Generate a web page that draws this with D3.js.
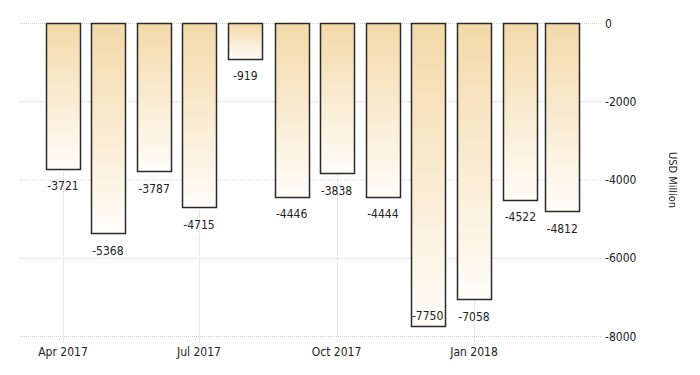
<!DOCTYPE html>
<html>
<head>
<meta charset="utf-8">
<script src="https://cdn.jsdelivr.net/npm/d3@7"></script>
<style>
body { margin: 0; background: #fff; }
text { font-family: "DejaVu Sans Condensed", "Liberation Sans", sans-serif; font-size: 12px; fill: #222; }
</style>
</head>
<body>
<script>
// monthly values, USD million
let months = ['2017-04', '2017-05', '2017-06', '2017-07', '2017-08', '2017-09', '2017-10', '2017-11', '2017-12', '2018-01', '2018-02', '2018-03'];
let values = [-3721, -5368, -3787, -4715, -919, -4446, -3838, -4444, -7750, -7058, -4522, -4812];
let xTicks = ['2017-04', '2017-07', '2017-10', '2018-01'];
let yTicks = [0, -2000, -4000, -6000, -8000];

let width = 700, height = 375;
let parse = d3.timeParse('%Y-%m');

const svg = d3.select('body').append('svg').attr('width', width).attr('height', height);

// time scale: Apr 2017 -> 63px, Jan 2018 -> 474px
let x = d3.scaleTime().domain([parse('2017-04'), parse('2018-01')]).range([63, 474]);
let y = d3.scaleLinear().domain([0, -8000]).range([23, 336]);
let left = 20, right = 601;
let barW = 34;

let grad = svg.append('defs').append('linearGradient').attr('id', 'barfill')
	.attr('x1', 0).attr('y1', 0).attr('x2', 0).attr('y2', 1);
grad.append('stop').attr('offset', '0%').attr('stop-color', '#f3d9a8');
grad.append('stop').attr('offset', '100%').attr('stop-color', '#fffdf9');

// grid
svg.append('g').selectAll('line').data(yTicks).enter().append('line')
	.attr('x1', left).attr('x2', right)
	.attr('y1', d => y(d) + 0.5).attr('y2', d => y(d) + 0.5)
	.attr('stroke', '#cfcfcf').attr('stroke-dasharray', '1,1');
svg.append('g').selectAll('line').data(xTicks).enter().append('line')
	.attr('x1', d => Math.round(x(parse(d))) + 0.5).attr('x2', d => Math.round(x(parse(d))) + 0.5)
	.attr('y1', 23).attr('y2', 342)
	.attr('stroke', '#d8d8d8').attr('stroke-dasharray', '1,1');

// bars
let bars = svg.append('g');
bars.selectAll('rect').data(values).enter().append('rect')
	.attr('x', (d, i) => Math.round(x(parse(months[i])) - barW / 2) + 0.5)
	.attr('y', y(0) + 0.5)
	.attr('width', barW)
	.attr('height', d => Math.round(y(d) - y(0)))
	.attr('fill', 'url(#barfill)')
	.attr('stroke', '#2a2a2a').attr('stroke-width', 1.5);

// value labels
bars.selectAll('text').data(values).enter().append('text')
	.attr('x', (d, i) => x(parse(months[i])))
	.attr('y', d => {
		let ly = y(d) + 18;
		return ly > y(-8000) ? y(d) - 10 : ly;
	})
	.attr('text-anchor', 'middle').attr('dominant-baseline', 'middle')
	.text(d => d);

// x axis labels
let fmt = d3.timeFormat('%b %Y');
svg.append('g').selectAll('text').data(xTicks).enter().append('text')
	.attr('x', d => x(parse(d))).attr('y', 352)
	.attr('text-anchor', 'middle').attr('dominant-baseline', 'middle')
	.text(d => fmt(parse(d)));

// y axis labels
svg.append('g').selectAll('text').data(yTicks).enter().append('text')
	.attr('x', 605).attr('y', d => y(d) + 1)
	.attr('dominant-baseline', 'middle')
	.text(d => d);

svg.append('text').attr('transform', 'translate(672,180) rotate(90)')
	.attr('text-anchor', 'middle').attr('dominant-baseline', 'middle')
	.style('font-size', '11px')
	.text('USD Million');
</script>
</body>
</html>
